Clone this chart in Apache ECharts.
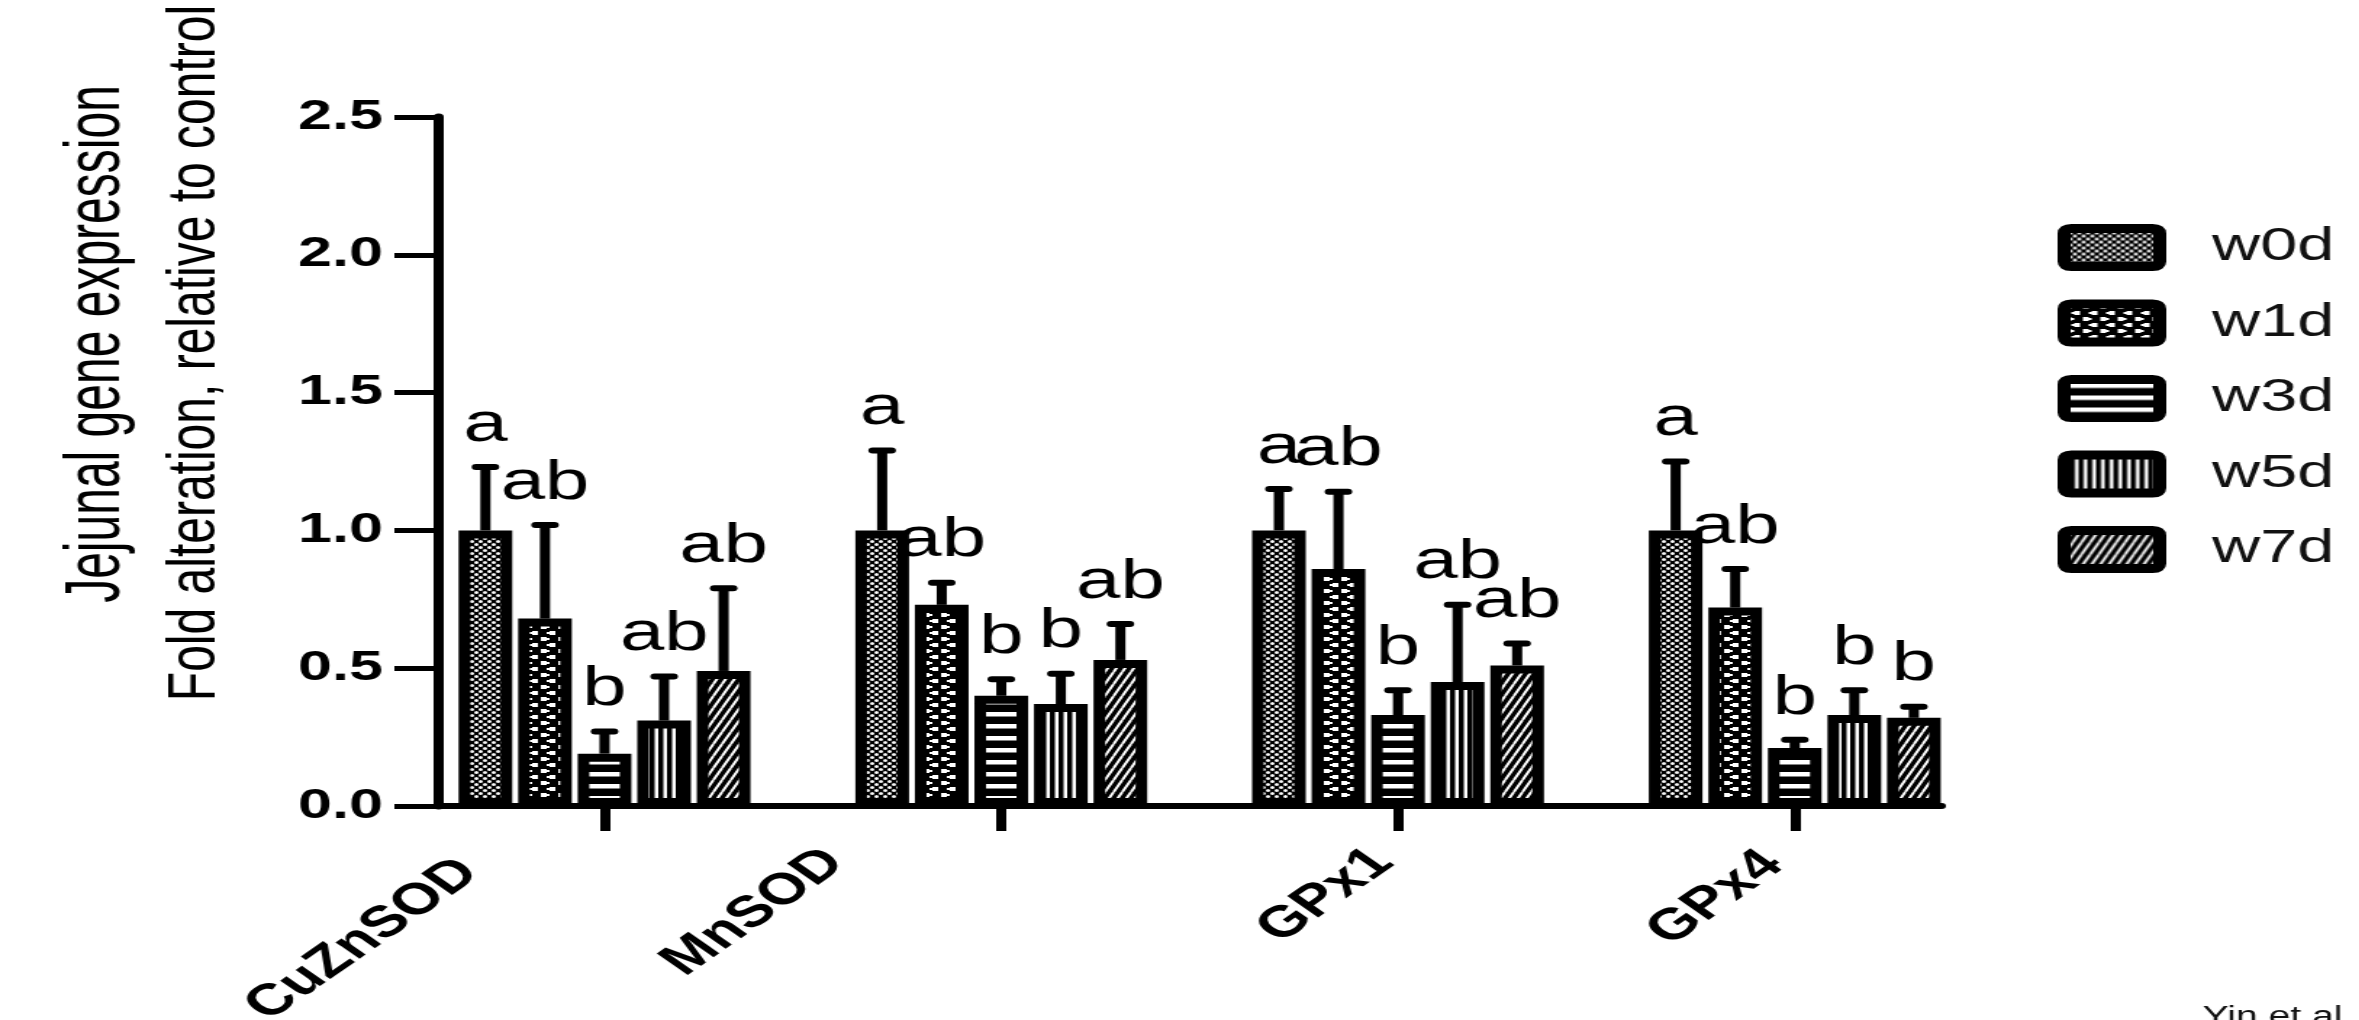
<!DOCTYPE html>
<html>
<head>
<meta charset="utf-8">
<title>Jejunal antioxidant gene expression</title>
<script src="https://cdn.jsdelivr.net/npm/echarts@6/dist/echarts.min.js"></script>
<style>
  html, body { margin: 0; padding: 0; background: #fff; overflow: hidden; width: 2359px; height: 1020px; }
  #wrap { position: relative; width: 2359px; height: 1020px; overflow: hidden; }
  #chart { position: absolute; left: 0; top: 0; height: 1020px; transform-origin: 0 0; }
</style>
</head>
<body>
<div id="wrap"><div id="chart"></div></div>
<script>
// ---- data ----
const genes = ['CuZnSOD', 'MnSOD', 'GPx1', 'GPx4'];
const groups = ['w0d', 'w1d', 'w3d', 'w5d', 'w7d'];

// mean fold change per gene (CuZnSOD, MnSOD, GPx1, GPx4)
const w0dMean = [1.00, 1.00, 1.00, 1.00];
const w1dMean = [0.68, 0.73, 0.86, 0.72];
const w3dMean = [0.19, 0.40, 0.33, 0.21];
const w5dMean = [0.31, 0.37, 0.45, 0.33];
const w7dMean = [0.49, 0.53, 0.51, 0.32];

// upper error (SEM)
const w0dErr = [0.23, 0.29, 0.15, 0.25];
const w1dErr = [0.34, 0.08, 0.28, 0.14];
const w3dErr = [0.08, 0.06, 0.09, 0.03];
const w5dErr = [0.16, 0.11, 0.28, 0.09];
const w7dErr = [0.30, 0.13, 0.08, 0.04];

// significance letters
const w0dSig = ['a', 'a', 'a', 'a'];
const w1dSig = ['ab', 'ab', 'ab', 'ab'];
const w3dSig = ['b', 'b', 'b', 'b'];
const w5dSig = ['ab', 'b', 'ab', 'b'];
const w7dSig = ['ab', 'ab', 'ab', 'b'];

const yTicks = [0, 0.5, 1.0, 1.5, 2.0, 2.5];

const means = [w0dMean, w1dMean, w3dMean, w5dMean, w7dMean];
const errs = [w0dErr, w1dErr, w3dErr, w5dErr, w7dErr];
const sigs = [w0dSig, w1dSig, w3dSig, w5dSig, w7dSig];

// ---- layout ----
// The figure is drawn narrow and widened horizontally, giving the wide lettering of the print.
const STRETCH = 1.45;
const W = Math.round(2359 / STRETCH);
const el = document.getElementById('chart');
el.style.width = W + 'px';
el.style.transform = 'scaleX(' + STRETCH + ')';

const FONT = '"Liberation Sans", Arial, Helvetica, sans-serif';
const BAR_W = 37;
const GAP_RATIO = 0.11;
const BAR_GAP = (GAP_RATIO * 100) + '%';
const BAR_BORDER = 8;
const CAP = 13;
const geneIdx = genes.map((g, k) => k);

// extra room after / below each slanted gene name: [end, below]
const labelRoom = { CuZnSOD: [73, 118], MnSOD: [81, 162], GPx1: [7, 15], GPx4: [12, 18] };
const labelRich = {};
genes.forEach(g => {
  const r = labelRoom[g] || [0, 0];
  labelRich[g] = { fontFamily: FONT, fontWeight: 'bold', fontSize: 44, color: '#000',
                   padding: [0, r[0], r[1], 0] };
});

// fill textures: white motifs on black
function tile(w, h, draw) {
  const c = document.createElement('canvas');
  c.width = w; c.height = h;
  const g = c.getContext('2d');
  g.fillStyle = '#000';
  g.fillRect(0, 0, w, h);
  g.fillStyle = '#fff';
  g.strokeStyle = '#fff';
  draw(g, w, h);
  return { image: c, repeat: 'repeat' };
}
const textures = [
  // w0d: fine staggered dots
  tile(6, 6, g => {
    g.beginPath(); g.ellipse(1.5, 1.5, 1.4, 1.5, 0, 0, Math.PI * 2); g.fill();
    g.beginPath(); g.ellipse(4.5, 4.5, 1.4, 1.5, 0, 0, Math.PI * 2); g.fill();
  }),
  // w1d: coarse checker blocks
  tile(12, 12, g => {
    g.fillRect(1, 1, 4, 4);
    g.fillRect(7, 7, 4, 4);
    g.fillRect(5, 2, 2, 2);
    g.fillRect(5, 8, 2, 2);
  }),
  // w3d: horizontal stripes
  tile(4, 12, g => { g.fillRect(0, 4, 4, 4.5); }),
  // w5d: vertical stripes
  tile(6, 4, g => { g.fillRect(1.5, 0, 2.5, 4); }),
  // w7d: diagonal hatching
  tile(6, 12, g => {
    g.lineWidth = 2;
    g.beginPath();
    g.moveTo(-6, 12); g.lineTo(0, 0);
    g.moveTo(0, 12); g.lineTo(6, 0);
    g.moveTo(6, 12); g.lineTo(12, 0);
    g.stroke();
  })
];

// legend key: rectangle with slightly rounded corners
const KEY_ICON = 'path://M5,0 H61 Q66,0 66,5 V33 Q66,38 61,38 H5 Q0,38 0,33 V5 Q0,0 5,0 Z';

const chart = echarts.init(el, null, { renderer: 'canvas' });

const barSeries = groups.map((name, i) => ({
  type: 'bar',
  name: name,
  data: geneIdx.map(k => [k, means[i][k]]),
  barWidth: BAR_W,
  barGap: BAR_GAP,
  z: 2,
  itemStyle: { color: textures[i], borderColor: '#000', borderWidth: BAR_BORDER }
}));

// error bar + letter, centred on the matching bar of the cluster
const errSeries = groups.map((name, i) => ({
  type: 'custom',
  id: 'err-' + name,
  z: 3,
  clip: false,
  data: geneIdx.map(k => [k, means[i][k], errs[i][k]]),
  encode: { x: 0, y: 1 },
  renderItem: (params, api) => {
    const ci = api.value(0);
    const m = api.value(1);
    const e = api.value(2);
    const off = (i - (groups.length - 1) / 2) * BAR_W * (1 + GAP_RATIO);
    const base = api.coord([ci, m]);
    const top = api.coord([ci, m + e]);
    const x = base[0] + off;
    return {
      type: 'group',
      children: [
        { type: 'line', shape: { x1: x, y1: base[1], x2: x, y2: top[1] },
          style: { stroke: '#000', lineWidth: 7 } },
        { type: 'line', shape: { x1: x - CAP / 2, y1: top[1], x2: x + CAP / 2, y2: top[1] },
          style: { stroke: '#000', lineWidth: 6, lineCap: 'round' } },
        { type: 'text',
          style: { x: x, y: top[1] - 14, text: sigs[i][params.dataIndex],
                   font: '55px ' + FONT, fill: '#000', align: 'center', verticalAlign: 'bottom' } }
      ]
    };
  }
}));

chart.setOption({
  animation: false,
  backgroundColor: '#fff',
  grid: { left: 302, top: 117, width: 1037, height: 689, containLabel: false, outerBoundsMode: 'none' },
  xAxis: {
    type: 'value',
    min: -0.42,
    max: 3.37,
    splitLine: { show: false },
    axisLine: { show: true, onZero: false, lineStyle: { color: '#000', width: 6 } },
    axisTick: { show: true, customValues: geneIdx, length: 25, lineStyle: { color: '#000', width: 7 } },
    axisLabel: {
      show: true,
      customValues: geneIdx,
      rotate: 45,
      margin: 50,
      color: '#000', fontFamily: FONT, fontWeight: 'bold', fontSize: 44,
      formatter: v => {
        const name = genes[Math.round(v)];
        return name ? '{' + name + '|' + name + '}' : '';
      },
      rich: labelRich
    }
  },
  yAxis: {
    type: 'value',
    min: yTicks[0],
    max: yTicks[yTicks.length - 1],
    interval: yTicks[1] - yTicks[0],
    splitLine: { show: false },
    axisLine: { show: true, onZero: false, lineStyle: { color: '#000', width: 7 } },
    axisTick: { show: true, length: 30, lineStyle: { color: '#000', width: 5 } },
    axisLabel: { margin: 38, color: '#000', fontFamily: FONT, fontWeight: 'bold', fontSize: 42,
                 formatter: v => v.toFixed(1) }
  },
  legend: {
    data: groups,
    orient: 'vertical',
    left: 1419,
    top: 224,
    padding: 0,
    itemWidth: 66,
    itemHeight: 38,
    itemGap: 28.5,
    icon: KEY_ICON,
    symbolKeepAspect: false,
    selectedMode: false,
    itemStyle: { borderColor: '#000', borderWidth: 9 },
    textStyle: { fontFamily: FONT, fontSize: 46, color: '#111', lineHeight: 46, padding: [0, 0, 0, 31] }
  },
  graphic: [
    { type: 'text', x: 67, y: 344, rotation: Math.PI / 2, scaleY: 1.1,
      style: { text: 'Jejunal gene expression', font: '48px ' + FONT, fill: '#000',
               align: 'center', verticalAlign: 'middle' } },
    { type: 'text', x: 135, y: 353, rotation: Math.PI / 2, scaleY: 0.95,
      style: { text: 'Fold alteration, relative to control', font: '48px ' + FONT, fill: '#000',
               align: 'center', verticalAlign: 'middle' } },
    { type: 'text', x: 1519, y: 1004,
      style: { text: 'Yin et al', font: '27px ' + FONT, fill: '#111', align: 'left', verticalAlign: 'top' } }
  ],
  series: barSeries.concat(errSeries)
});
</script>
</body>
</html>
